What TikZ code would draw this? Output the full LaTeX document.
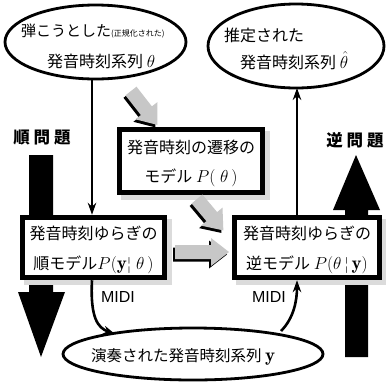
\documentclass[tikz,border=0pt]{standalone}
\usepackage{fontspec}
\newfontfamily\jp{Noto Sans CJK JP}
\newfontfamily\msans{Liberation Sans}
\usetikzlibrary{arrows.meta,shapes.geometric}
\newcommand\grayarr[3]{%
  \begin{scope}[shift={#1},xshift=-2pt,yshift=-2.5pt,rotate=#2]
    \fill[black] (0,-7) -- ({#3-18},-7) -- ({#3-18},-14) -- (#3,0) -- ({#3-18},14) -- ({#3-18},7) -- (0,7) -- cycle;
  \end{scope}
  \begin{scope}[shift={#1},rotate=#2]
    \fill[graybody] (0,-7) -- ({#3-18},-7) -- ({#3-18},-14) -- (#3,0) -- ({#3-18},14) -- ({#3-18},7) -- (0,7) -- cycle;
  \end{scope}}
\newcommand\bm[1]{{\fontsize{19}{20}\selectfont$#1$}}
\begin{document}
\begin{tikzpicture}[x=1pt,y=-1pt,
  jt/.style={font=\jp\fontsize{16}{18}\selectfont, inner sep=0pt, anchor=base west},
  jc/.style={font=\jp\fontsize{16}{18}\selectfont, inner sep=0pt, anchor=base},
  ell/.style={draw, ellipse, line width=2.8pt, inner sep=0pt},
  mbox/.style={draw, line width=5.5pt, fill=white, inner sep=0pt},
  shad/.style={fill=black!14},
  conn/.style={line width=2.6pt, -{Stealth[length=12pt,width=8.5pt]}},
  bigarr/.style={fill=black},
  midi/.style={font=\msans\fontsize{16}{18}\selectfont, inner sep=0pt},
  lab/.style={font=\jp\bfseries\fontsize{16.5}{18}\selectfont, inner sep=0pt}]
\colorlet{graybody}{black!22}
\useasboundingbox (0,0) rectangle (388,381);
\fill[white] (0,0) rectangle (388,381);

% big arrows
\fill[bigarr] (29,155) -- (53,155) -- (53,292) -- (65,292) -- (41,357) -- (18,292) -- (29,292) -- cycle;
\fill[bigarr] (345,357) -- (368,357) -- (368,210) -- (380,210) -- (356,155) -- (333,210) -- (345,210) -- cycle;
\node[lab] (forw) at (42,138) {順\kern4pt 問\kern4pt 題};
\node[lab] (inv) at (355,140) {逆\kern4pt 問\kern4pt 題};

% ellipses
\node[ell, minimum width=181pt, minimum height=74pt] (e1) at (95.5,42) {};
\node[jt, align=left] (t1) at (21,67) {{\fontsize{15}{17}\selectfont 弾こうとした}{\fontsize{8}{9}\selectfont(正規化された)}\\[13pt]
  \hspace*{26pt}発音時刻系列 \bm{\theta}};

\node[ell, minimum width=176pt, minimum height=84pt] (e2) at (296,46) {};
\node[jt, align=left] (t2) at (224,68) {推定された\\[9pt]
  \hspace*{16pt}発音時刻系列 \bm{\hat{\theta}}};

\node[ell, minimum width=260pt, minimum height=52pt] (e3) at (193,354) {};
\node[jt, font=\jp\fontsize{15.5}{17}\selectfont] (t3) at (91,361) {演奏された発音時刻系列 \bm{\mathbf{y}}};

% boxes
\fill[shad] (121,131) rectangle (270,200);
\node[mbox, minimum width=143pt, minimum height=63pt] (mid) at (191,161) {};
\node[jc] (m1) at (191,153) {発音時刻の遷移の};
\node[jc] (m2) at (191,182) {モデル \bm{P(\;\theta\,)}};

\fill[shad] (24,219) rectangle (172,285);
\node[mbox, minimum width=142pt, minimum height=60pt] (lb) at (93.5,247.5) {};
\node[jc] (l1) at (93.5,239) {発音時刻ゆらぎの};
\node[jc] (l2) at (93.5,269) {順モデル\bm{P(\mathbf{y}}{\rmfamily\fontsize{16}{18}\selectfont¦}\bm{\;\theta\,)}};

\fill[shad] (236,219) rectangle (386,285);
\node[mbox, minimum width=145pt, minimum height=60pt] (rb) at (307,247.5) {};
\node[jc] (r1) at (307,239) {発音時刻ゆらぎの};
\node[jc] (r2) at (307,269) {逆モデル\ \bm{P(\theta\,}{\rmfamily\fontsize{16}{18}\selectfont¦}\bm{\,\mathbf{y})}};

% gray arrows
\grayarr{(131,91)}{-52}{43}
\grayarr{(197,199)}{-50}{41}
\grayarr{(175,252)}{0}{54}

% connectors
\coordinate (p1) at (92,79);
\draw[conn] (p1) -- (p1 |- lb.north);
\coordinate (p2) at (92,280);
\coordinate (p3) at (115,334);
\draw[conn] (p2 |- lb.south) .. controls (90,318) and (98,328) .. (p3);
\coordinate (p4) at (281,331);
\coordinate (p5) at (297,280);
\draw[conn] (p4) .. controls (294,318) and (297,300) .. (p5 |- rb.south);
\coordinate (p6) at (297,88);
\draw[conn] (p5 |- rb.north) -- (p6);

\node[midi] (midi1) at (118,297) {MIDI};
\node[midi] (midi2) at (269,297) {MIDI};
\end{tikzpicture}
\end{document}
